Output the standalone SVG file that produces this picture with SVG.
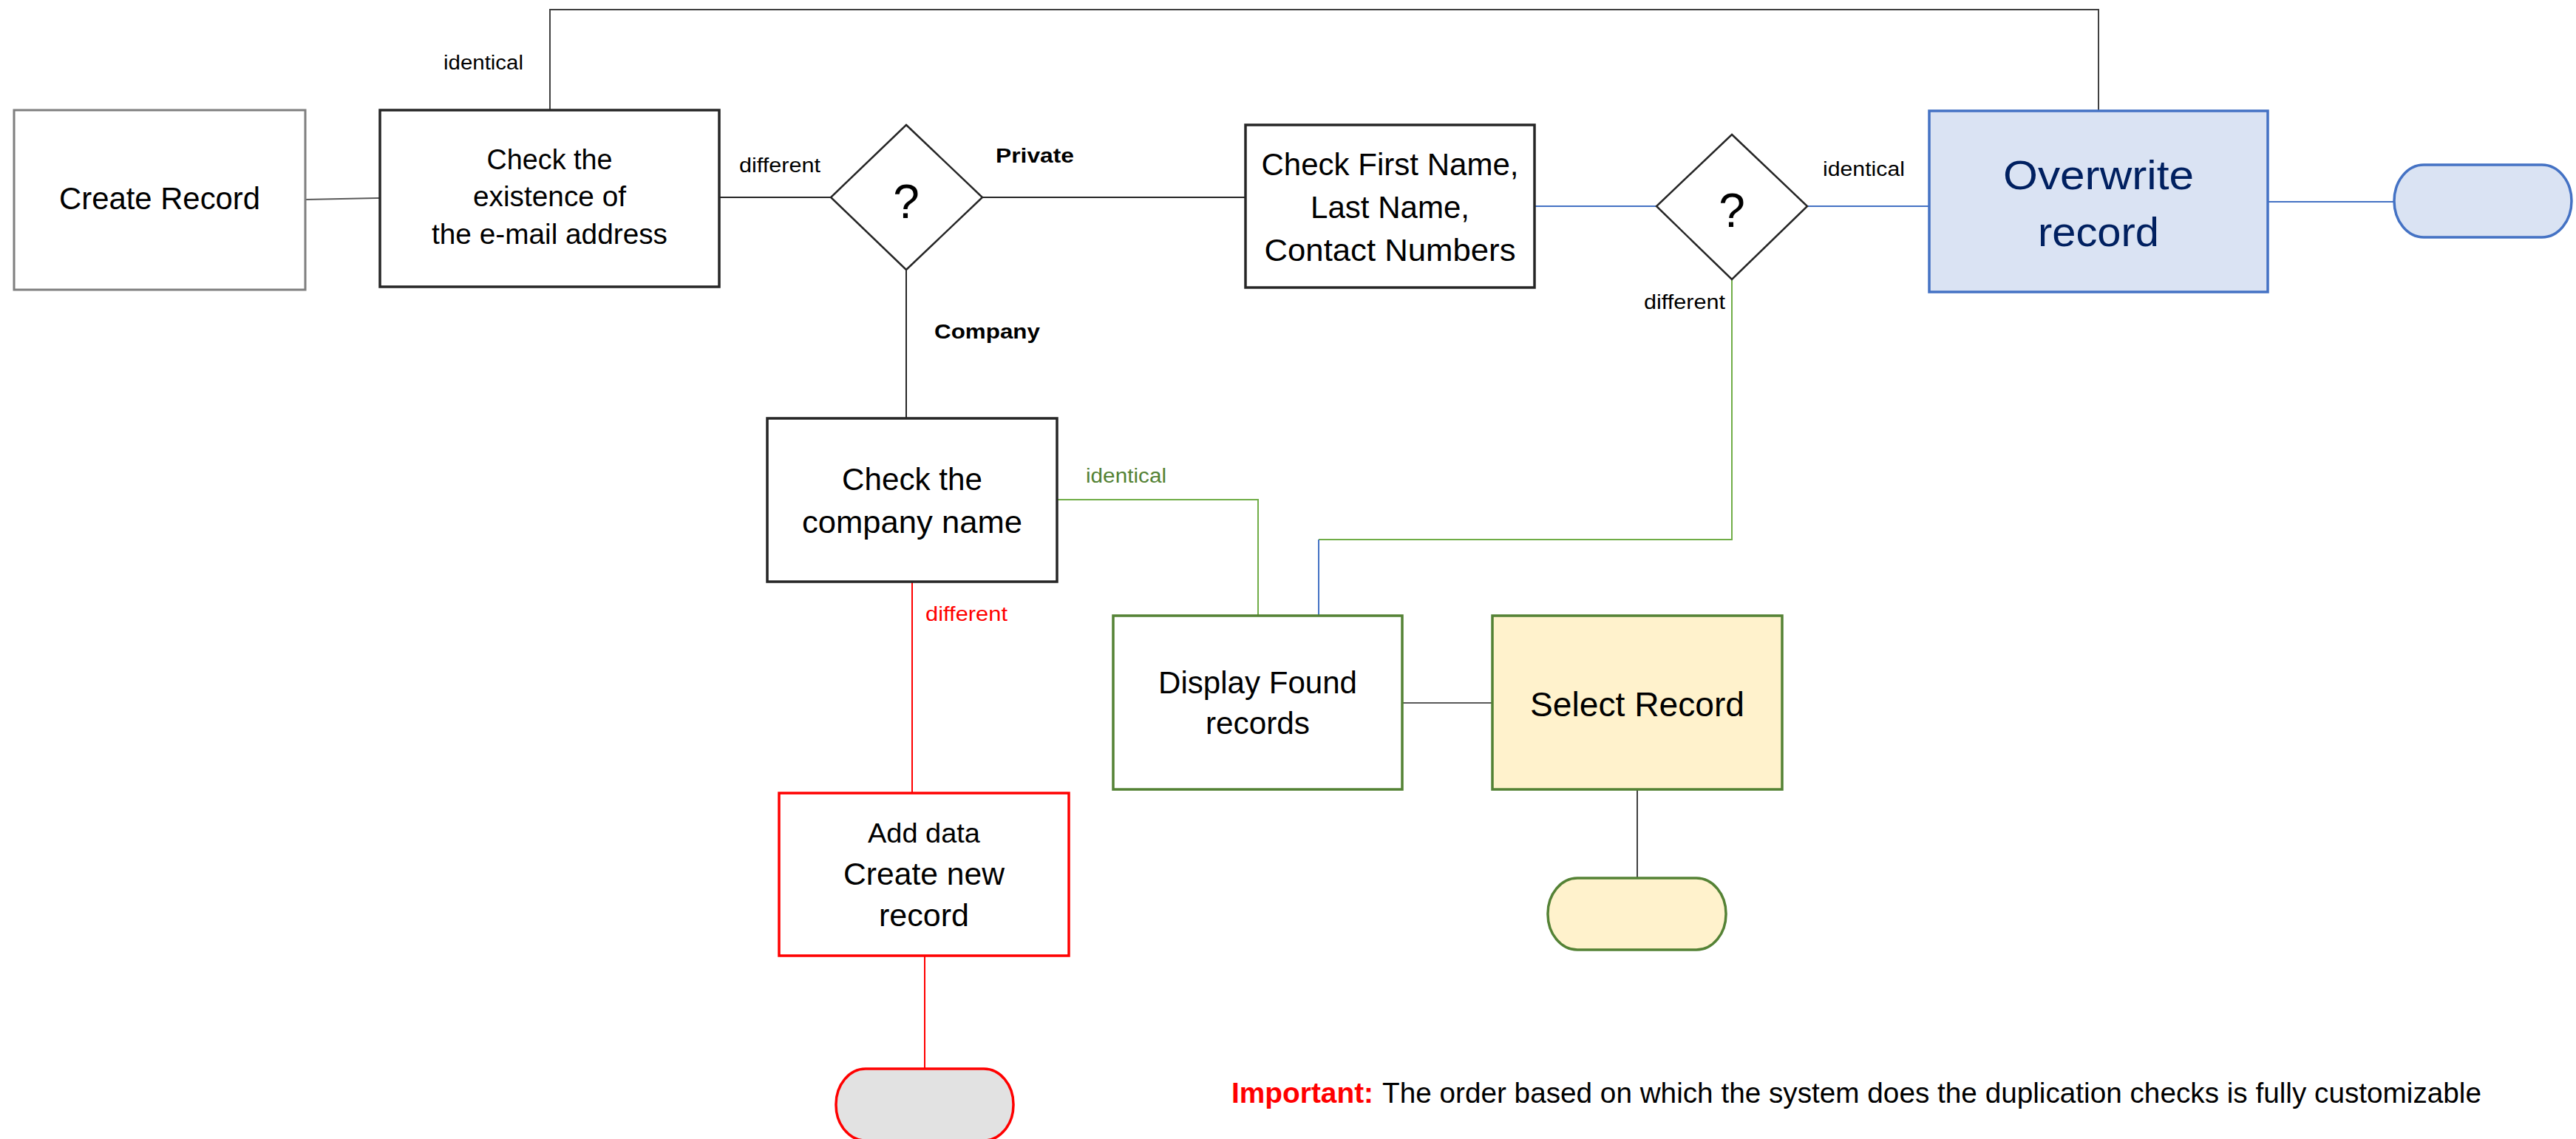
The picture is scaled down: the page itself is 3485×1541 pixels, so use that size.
<svg xmlns="http://www.w3.org/2000/svg" width="3485" height="1541" viewBox="0 0 3485 1541">
<style>
text{font-family:"Liberation Sans",Arial,sans-serif;fill:#000}
.c{text-anchor:middle}
.b{font-weight:bold}
.box{fill:#fff;stroke:#262626;stroke-width:3.5}
.dia{fill:#fff;stroke:#262626;stroke-width:2.5}
.ln{fill:none;stroke-width:2}
.lbl{font-size:27px}
</style>
<rect width="3485" height="1541" fill="#fff"/>
<g id="connectors">
<path class="ln" d="M413,270 L514,268" stroke="#595959"/>
<path class="ln" d="M744,149 V13 H2839 V150" stroke="#404040"/>
<path class="ln" d="M973,267 H1124" stroke="#262626"/>
<path class="ln" d="M1329,267 H1685" stroke="#262626"/>
<path class="ln" d="M2076,279 H2241" stroke="#4472c4"/>
<path class="ln" d="M2445,279 H2610" stroke="#4472c4"/>
<path class="ln" d="M3068,273 H3239" stroke="#4472c4"/>
<path class="ln" d="M1226,365 V566" stroke="#262626"/>
<path class="ln" d="M1430,676 H1702 V833" stroke="#70ad47"/>
<path class="ln" d="M2343,378 V730 H1784" stroke="#70ad47"/>
<path class="ln" d="M1784,730 V833" stroke="#4472c4"/>
<path class="ln" d="M1234,787 V1073" stroke="#ff0000"/>
<path class="ln" d="M1897,951 H2019" stroke="#595959"/>
<path class="ln" d="M2215,1068 V1188" stroke="#404040"/>
<path class="ln" d="M1251,1293 V1446" stroke="#ff0000"/>
<text class="lbl" x="600" y="94" textLength="108" lengthAdjust="spacingAndGlyphs">identical</text>
<text class="lbl" x="1000" y="233" textLength="110" lengthAdjust="spacingAndGlyphs">different</text>
<text class="lbl b" x="1347" y="220" font-size="32" textLength="106" lengthAdjust="spacingAndGlyphs">Private</text>
<text class="lbl" x="2466" y="238" textLength="111" lengthAdjust="spacingAndGlyphs">identical</text>
<text class="lbl" x="2224" y="418" textLength="110" lengthAdjust="spacingAndGlyphs">different</text>
<text class="lbl b" x="1264" y="458" font-size="32" textLength="143" lengthAdjust="spacingAndGlyphs">Company</text>
<text class="lbl" x="1469" y="653" textLength="109" lengthAdjust="spacingAndGlyphs" style="fill:#548235">identical</text>
<text class="lbl" x="1252" y="840" textLength="111" lengthAdjust="spacingAndGlyphs" style="fill:#ff0000">different</text>
</g>
<g id="create-record">
<rect x="19" y="149" width="394" height="243" fill="#fff" stroke="#7f7f7f" stroke-width="3"/>
<text class="c" x="216" y="283" font-size="42" textLength="272" lengthAdjust="spacingAndGlyphs">Create Record</text>
</g>
<g id="check-email">
<rect class="box" x="514" y="149" width="459" height="239"/>
<text class="c" x="743.5" y="229" font-size="38" textLength="170" lengthAdjust="spacingAndGlyphs">Check the</text>
<text class="c" x="743.5" y="279" font-size="38" textLength="207" lengthAdjust="spacingAndGlyphs">existence of</text>
<text class="c" x="743.5" y="330" font-size="38" textLength="319" lengthAdjust="spacingAndGlyphs">the e-mail address</text>
</g>
<g id="decision-type">
<polygon class="dia" points="1226,169 1329,267 1226,365 1124,267"/>
<text class="c" x="1226" y="295" font-size="64">?</text>
</g>
<g id="check-names">
<rect class="box" x="1685" y="169" width="391" height="220"/>
<text class="c" x="1880.5" y="237" font-size="42" textLength="348" lengthAdjust="spacingAndGlyphs">Check First Name,</text>
<text class="c" x="1880.5" y="295" font-size="42" textLength="215" lengthAdjust="spacingAndGlyphs">Last Name,</text>
<text class="c" x="1880.5" y="353" font-size="42" textLength="340" lengthAdjust="spacingAndGlyphs">Contact Numbers</text>
</g>
<g id="decision-names">
<polygon class="dia" points="2343,182 2445,279 2343,378 2241,279"/>
<text class="c" x="2343" y="307" font-size="64">?</text>
</g>
<g id="overwrite-record">
<rect x="2610" y="150" width="458" height="245" fill="#dae3f3" stroke="#4472c4" stroke-width="3.5"/>
<text class="c" x="2839" y="256" font-size="56" textLength="258" lengthAdjust="spacingAndGlyphs" style="fill:#002060">Overwrite</text>
<text class="c" x="2839" y="333" font-size="56" textLength="164" lengthAdjust="spacingAndGlyphs" style="fill:#002060">record</text>
</g>
<g id="end-overwrite">
<rect x="3239" y="223" width="240" height="98" rx="40" ry="49" fill="#dae3f3" stroke="#4472c4" stroke-width="3.5"/>
</g>
<g id="check-company">
<rect class="box" x="1038" y="566" width="392" height="221"/>
<text class="c" x="1234" y="663" font-size="43" textLength="190" lengthAdjust="spacingAndGlyphs">Check the</text>
<text class="c" x="1234" y="721" font-size="43" textLength="298" lengthAdjust="spacingAndGlyphs">company name</text>
</g>
<g id="display-found">
<rect x="1506" y="833" width="391" height="235" fill="#fff" stroke="#548235" stroke-width="3.5"/>
<text class="c" x="1701.5" y="938" font-size="42" textLength="269" lengthAdjust="spacingAndGlyphs">Display Found</text>
<text class="c" x="1701.5" y="993" font-size="42" textLength="141" lengthAdjust="spacingAndGlyphs">records</text>
</g>
<g id="select-record">
<rect x="2019" y="833" width="392" height="235" fill="#fff2cc" stroke="#548235" stroke-width="3.5"/>
<text class="c" x="2215" y="969" font-size="47" textLength="290" lengthAdjust="spacingAndGlyphs">Select Record</text>
</g>
<g id="end-select">
<rect x="2094" y="1188" width="241" height="97" rx="40" ry="48" fill="#fff2cc" stroke="#548235" stroke-width="3.5"/>
</g>
<g id="add-data">
<rect x="1054" y="1073" width="392" height="220" fill="#fff" stroke="#ff0000" stroke-width="3.5"/>
<text class="c" x="1250" y="1140" font-size="37" textLength="152" lengthAdjust="spacingAndGlyphs">Add data</text>
<text class="c" x="1250" y="1197" font-size="42" textLength="218" lengthAdjust="spacingAndGlyphs">Create new</text>
<text class="c" x="1250" y="1253" font-size="42" textLength="122" lengthAdjust="spacingAndGlyphs">record</text>
</g>
<g id="end-add">
<rect x="1131" y="1446" width="240" height="97" rx="40" ry="48" fill="#e2e2e2" stroke="#ff0000" stroke-width="3.5"/>
</g>
<g id="note">
<text class="b" x="1666" y="1492" font-size="38" textLength="192" lengthAdjust="spacingAndGlyphs" style="fill:#ff0000">Important:</text>
<text x="1870" y="1492" font-size="38" textLength="1487" lengthAdjust="spacingAndGlyphs">The order based on which the system does the duplication checks is fully customizable</text>
</g>
</svg>
